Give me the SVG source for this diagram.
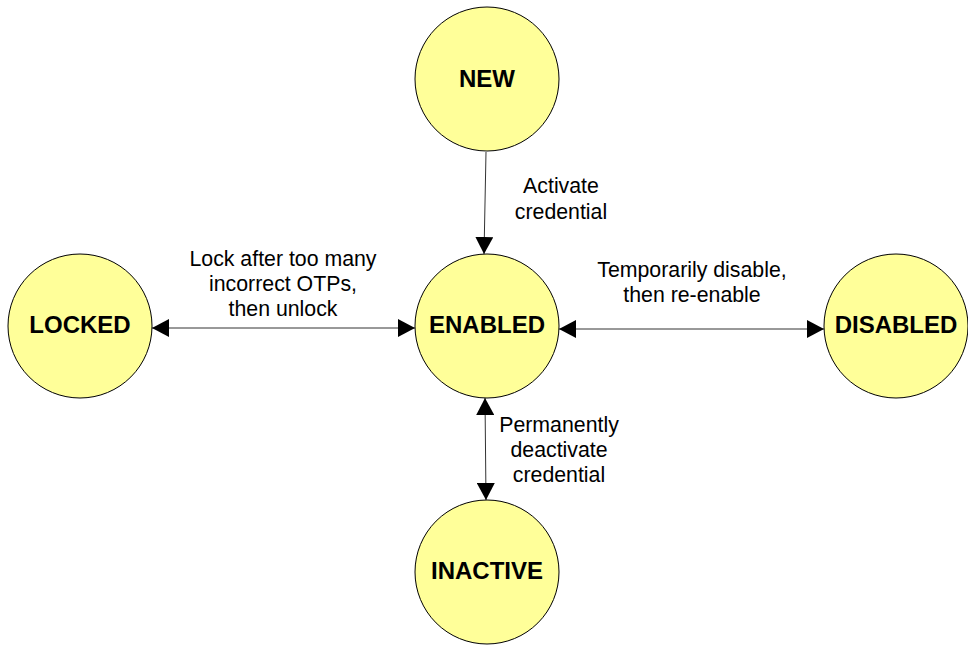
<svg xmlns="http://www.w3.org/2000/svg" width="968" height="645" viewBox="0 0 968 645">
<style>
.node circle{fill:#FFFF99;stroke:#000;stroke-width:1}
.node text{font-family:"Liberation Sans",Arial,sans-serif;font-weight:bold;font-size:24px;text-anchor:middle;fill:#000}
.lbl{font-family:"Liberation Sans",Arial,sans-serif;font-size:21.3px;text-anchor:middle;fill:#000}
.edge{stroke:#333;stroke-width:1;fill:none}
</style>
<defs>
<marker id="ah" viewBox="0 0 17 18" refX="17" refY="9" markerWidth="17" markerHeight="18" markerUnits="userSpaceOnUse" orient="auto-start-reverse">
<path d="M0,0 L17,9 L0,18 Z" fill="#000"/>
</marker>
</defs>
<rect width="968" height="645" fill="#fff"/>
<g id="connectors">
<line class="edge" x1="486" y1="152" x2="484" y2="254" marker-end="url(#ah)"/>
<line class="edge" x1="152" y1="328" x2="415" y2="328" marker-start="url(#ah)" marker-end="url(#ah)"/>
<line class="edge" x1="559" y1="329" x2="824" y2="329" marker-start="url(#ah)" marker-end="url(#ah)"/>
<line class="edge" x1="485" y1="398" x2="486" y2="500" marker-start="url(#ah)" marker-end="url(#ah)"/>
</g>
<g id="labels">
<text class="lbl" x="561" y="193">Activate</text>
<text class="lbl" x="561" y="219">credential</text>
<text class="lbl" x="283" y="266">Lock after too many</text>
<text class="lbl" x="283" y="291">incorrect OTPs,</text>
<text class="lbl" x="283" y="316">then unlock</text>
<text class="lbl" x="692" y="277">Temporarily disable,</text>
<text class="lbl" x="692" y="302">then re-enable</text>
<text class="lbl" x="559" y="432">Permanently</text>
<text class="lbl" x="559" y="457">deactivate</text>
<text class="lbl" x="559" y="482">credential</text>
</g>
<g id="node-new" class="node"><circle cx="487" cy="79" r="72"/><text x="487" y="87">NEW</text></g>
<g id="node-enabled" class="node"><circle cx="487" cy="326" r="72"/><text x="487" y="333">ENABLED</text></g>
<g id="node-locked" class="node"><circle cx="80" cy="326" r="72"/><text x="80" y="333">LOCKED</text></g>
<g id="node-disabled" class="node"><circle cx="896" cy="326" r="72"/><text x="896" y="333">DISABLED</text></g>
<g id="node-inactive" class="node"><circle cx="487" cy="572" r="72"/><text x="487" y="579">INACTIVE</text></g>
</svg>
